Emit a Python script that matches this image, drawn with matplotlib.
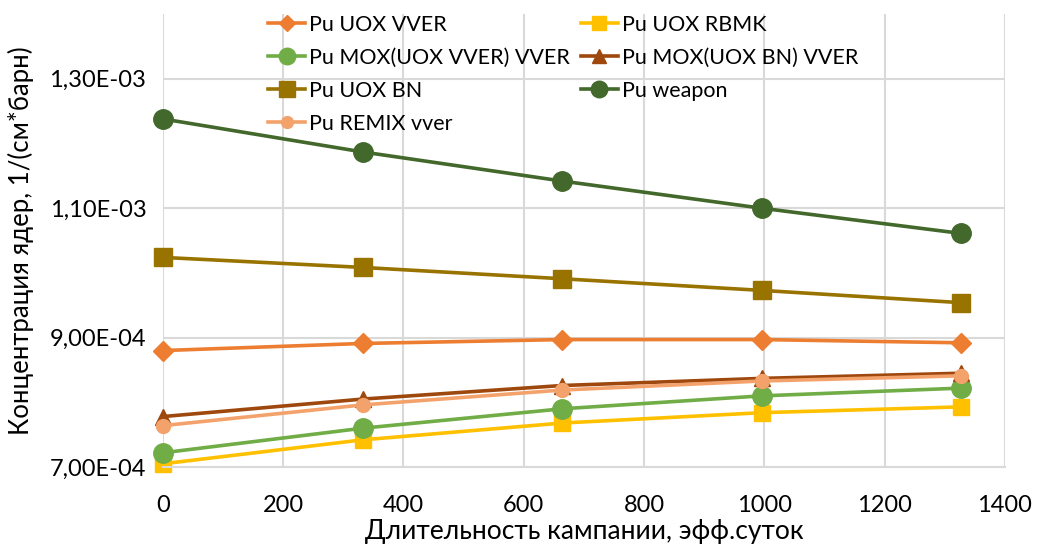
import matplotlib
matplotlib.use("Agg")
import matplotlib.pyplot as plt
from matplotlib.ticker import FuncFormatter, MultipleLocator

plt.rcParams['font.family'] = ['Lato', 'DejaVu Sans']

days = [0, 332, 664, 996, 1328]

series_names = ["Pu UOX VVER", "Pu UOX RBMK", "Pu MOX(UOX VVER) VVER",
                "Pu MOX(UOX BN) VVER", "Pu UOX BN", "Pu weapon", "Pu REMIX vver"]
pu_uox_vver = [8.80e-4, 8.91e-4, 8.97e-4, 8.97e-4, 8.92e-4]
pu_uox_rbmk = [7.05e-4, 7.42e-4, 7.68e-4, 7.84e-4, 7.93e-4]
pu_mox_uox_vver = [7.22e-4, 7.60e-4, 7.90e-4, 8.10e-4, 8.22e-4]
pu_mox_uox_bn = [7.78e-4, 8.05e-4, 8.26e-4, 8.37e-4, 8.45e-4]
pu_uox_bn = [1.024e-3, 1.0085e-3, 9.91e-4, 9.73e-4, 9.54e-4]
pu_weapon = [1.238e-3, 1.187e-3, 1.142e-3, 1.100e-3, 1.061e-3]
pu_remix = [7.64e-4, 7.96e-4, 8.19e-4, 8.33e-4, 8.41e-4]

values = [pu_uox_vver, pu_uox_rbmk, pu_mox_uox_vver, pu_mox_uox_bn,
          pu_uox_bn, pu_weapon, pu_remix]
colors = ["#ED7D31", "#FFC000", "#70AD47", "#9E480E", "#997300", "#43682B", "#F4A26B"]
markers = ["D", "s", "o", "^", "s", "o", "o"]
msizes = [10, 12, 14, 12, 13, 14, 10]

fig = plt.figure(figsize=(10.38, 5.44), dpi=100)
ax = fig.add_axes([0.157, 0.1415, 0.811, 0.8325])

handles = []
for name, v, c, m, ms in zip(series_names, values, colors, markers, msizes):
    h, = ax.plot(days, v, color=c, marker=m, markersize=ms, linewidth=2.6,
                 label=name, clip_on=False)
    handles.append(h)

ax.set_xlim(0, 1400)
ax.set_ylim(7e-4, 1.4e-3)
ax.xaxis.set_major_locator(MultipleLocator(200))
ax.set_yticks([7e-4, 9e-4, 1.1e-3, 1.3e-3])
ax.yaxis.set_major_formatter(FuncFormatter(
    lambda v, p: ("%.2E" % v).replace(".", ",")))

ax.grid(True, color="#d9d9d9", linewidth=1.5)
ax.set_axisbelow(True)
for s in ["top", "right", "left"]:
    ax.spines[s].set_visible(False)
ax.spines["bottom"].set_color("#d9d9d9")
ax.spines["bottom"].set_linewidth(1.5)
ax.tick_params(axis="both", length=0, labelsize=17, colors="#000000")
ax.tick_params(axis="x", pad=20)
ax.tick_params(axis="y", pad=12)

ax.set_xlabel("Длительность кампании, эфф.суток", fontsize=19, labelpad=2)
ax.set_ylabel("Концентрация ядер, 1/(см*барн)", fontsize=18.5, labelpad=11)

order = [0, 2, 4, 6, 1, 3, 5]
leg = fig.legend([handles[i] for i in order], [series_names[i] for i in order],
                 ncol=2, loc="upper left", bbox_to_anchor=(0.240, 1.008),
                 frameon=False, fontsize=15.5, handlelength=1.7,
                 columnspacing=0.5, labelspacing=0.6, handletextpad=0.2,
                 markerscale=0.85)

fig.savefig("out.png", dpi=100)
